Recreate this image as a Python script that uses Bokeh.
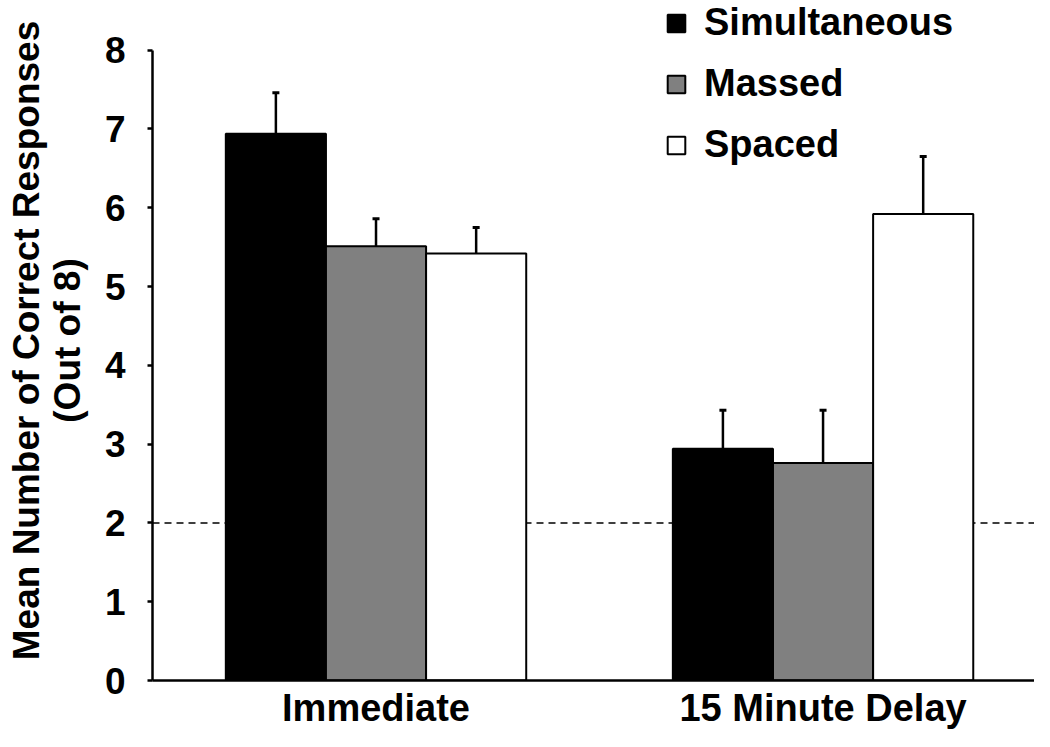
from bokeh.plotting import figure
from bokeh.models import (ColumnDataSource, Range1d, Span, Whisker, TeeHead,
                          Legend, LegendItem, FixedTicker)
from bokeh.transform import dodge
from bokeh.embed import file_html
from bokeh.resources import INLINE

categories = ["Immediate", "15 Minute Delay"]
series = ["Simultaneous", "Massed", "Spaced"]
simultaneous = [6.94, 2.94]
massed = [5.51, 2.76]
spaced = [5.42, 5.92]
simultaneous_err = [0.52, 0.49]
massed_err = [0.35, 0.67]
spaced_err = [0.33, 0.73]
chance_level = 2
y_ticks = [0, 1, 2, 3, 4, 5, 6, 7, 8]

FONT = "Liberation Sans"

cat_x = [i + 0.5 for i in range(len(categories))]

p = figure(x_range=Range1d(0, 1.973), y_range=Range1d(0, 8.63),
           width=1034, height=731, output_backend="svg", toolbar_location=None,
           min_border_left=152, min_border_right=0, min_border_top=0, min_border_bottom=50)
p.outline_line_color = None
p.xgrid.grid_line_color = None
p.ygrid.grid_line_color = None
p.background_fill_color = "white"
p.border_fill_color = "white"

# chance line
p.add_layout(Span(location=chance_level, dimension="width", line_color="black",
                  line_width=1.5, line_dash="7 5", level="underlay"))

bw = 0.224
offsets = [-bw, 0.0, bw]
vals = [simultaneous, massed, spaced]
errs = [simultaneous_err, massed_err, spaced_err]
fills = ["black", "#808080", "white"]
items = []
for name, off, v, e, fc in zip(series, offsets, vals, errs, fills):
    src = ColumnDataSource(dict(x=cat_x, val=v,
                                upper=[a + b for a, b in zip(v, e)]))
    r = p.vbar(x=dodge("x", off), top="val", width=bw, source=src,
               fill_color=fc, line_color="black", line_width=2)
    w = Whisker(source=src, base=dodge("x", off), upper="upper",
                lower="val", dimension="height", line_color="black", line_width=2.5,
                lower_head=None,
                upper_head=TeeHead(size=7, line_width=3, line_color="black"))
    p.add_layout(w)
    items.append(LegendItem(label=name, renderers=[r]))

legend = Legend(items=items, location=(513, 514), orientation="vertical",
                glyph_width=22, glyph_height=22, label_standoff=17, spacing=18,
                padding=0, margin=0, border_line_color=None, background_fill_alpha=0,
                label_text_font=FONT, label_text_font_style="bold",
                label_text_font_size="38px", label_text_color="black")
p.add_layout(legend)

# y axis
p.yaxis.ticker = FixedTicker(ticks=y_ticks)
p.yaxis.bounds = (0, 8)
p.yaxis.axis_line_width = 2.5
p.yaxis.major_tick_line_width = 2.5
p.yaxis.major_tick_out = 5
p.yaxis.major_tick_in = 0
p.yaxis.minor_tick_line_color = None
p.yaxis.major_label_text_font = FONT
p.yaxis.major_label_text_font_style = "bold"
p.yaxis.major_label_text_font_size = "37px"
p.yaxis.major_label_text_color = "black"
p.yaxis.major_label_standoff = 22
p.yaxis.axis_label = "Mean Number of Correct Responses\n(Out of 8)"
p.yaxis.axis_label_text_font = FONT
p.yaxis.axis_label_text_font_style = "bold"
p.yaxis.axis_label_text_font_size = "37px"
p.yaxis.axis_label_text_color = "black"
p.yaxis.axis_label_standoff = 14
p.yaxis.axis_label_text_line_height = 1.0

# x axis
p.xaxis.ticker = FixedTicker(ticks=cat_x)
p.xaxis.major_label_overrides = {x: c for x, c in zip(cat_x, categories)}
p.xaxis.axis_line_width = 2.5
p.xaxis.major_tick_line_color = None
p.xaxis.minor_tick_line_color = None
p.xaxis.major_label_text_font = FONT
p.xaxis.major_label_text_font_style = "bold"
p.xaxis.major_label_text_font_size = "38px"
p.xaxis.major_label_text_color = "black"
p.xaxis.major_label_standoff = 0

open("out.html", "w").write(file_html(p, INLINE))
